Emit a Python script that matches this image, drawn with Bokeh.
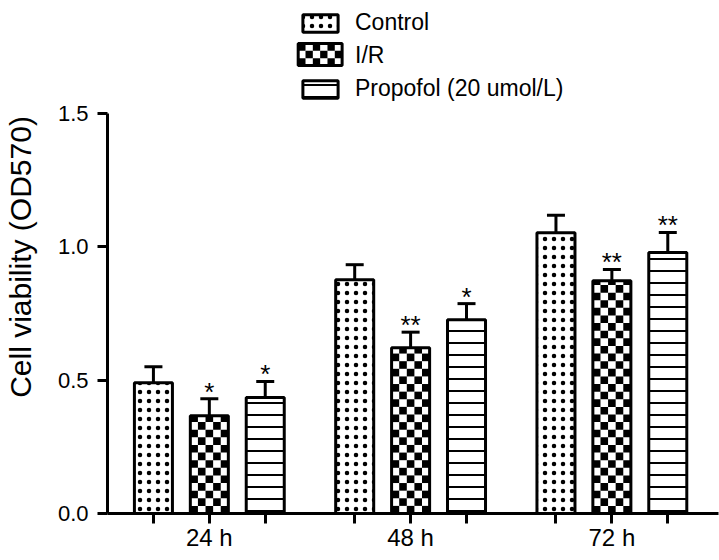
import math
from bokeh.plotting import figure
from bokeh.models import (ColumnDataSource, Whisker, TeeHead, FixedTicker, Legend, LegendItem,
                          LinearAxis, PrintfTickFormatter, Range1d)
from bokeh.core.properties import value
from bokeh.embed import file_html
from bokeh.resources import INLINE

categories = ["24 h", "48 h", "72 h"]
series = ["Control", "I/R", "Propofol (20 umol/L)"]
control = [0.49, 0.877, 1.053]
ir = [0.367, 0.622, 0.873]
propofol = [0.435, 0.727, 0.979]
control_err = [0.06, 0.056, 0.065]
ir_err = [0.063, 0.058, 0.042]
propofol_err = [0.06, 0.06, 0.075]
ir_sig = ["*", "**", "**"]
propofol_sig = ["*", "*", "**"]
y_ticks = [0.0, 0.5, 1.0, 1.5]

FONT = "Liberation Sans"
GROUP_STEP = 18
BAR_STEP = 5
BAR_W = 3.4
Y_MAX = 1.5
PX_X = 11.2      # pixels per x data unit
PX_Y = 266.67    # pixels per y data unit
X0 = -9.107
# the frame reaches the top of the canvas so that the legend above the 1.5 tick is not clipped
Y_TOP = Y_MAX + 113 / PX_Y

p = figure(width=719, height=560, output_backend="svg", toolbar_location=None,
           x_range=Range1d(X0, X0 + 612 / PX_X), y_range=Range1d(0, Y_TOP),
           min_border_left=106, min_border_right=1, min_border_top=0, min_border_bottom=47,
           x_axis_type=None, y_axis_type=None)
p.outline_line_color = None
p.xgrid.visible = False
p.ygrid.visible = False
p.background_fill_color = "white"


def checker_cells(xc, w, ybot, ytop, ncols, cell_h):
    cx, cy, cwid, chei = [], [], [], []
    cw = w / ncols
    nrows = int(math.ceil((ytop - ybot) / cell_h - 1e-9))
    for i in range(nrows):
        y0 = ybot + i * cell_h
        y1 = min(ytop, y0 + cell_h)
        for j in range(ncols):
            if (i + j) % 2 == 0:
                x0 = xc - w / 2 + j * cw
                cx.append(x0 + cw / 2)
                cy.append((y0 + y1) / 2)
                cwid.append(cw)
                chei.append(y1 - y0)
    return cx, cy, cwid, chei


vals = [control, ir, propofol]
errs = [control_err, ir_err, propofol_err]
sigs = [[""] * 3, ir_sig, propofol_sig]
styles = [
    dict(hatch_pattern="dot", hatch_scale=9, hatch_weight=1.2, hatch_color="black"),
    dict(),
    dict(hatch_pattern="horizontal_line", hatch_scale=12, hatch_weight=2, hatch_color="black"),
]

renderers = []
bar_ticks = []
for k, (name, v, e, s, st) in enumerate(zip(series, vals, errs, sigs, styles)):
    xs = [g * GROUP_STEP + (k - 1) * BAR_STEP for g in range(len(categories))]
    bar_ticks += xs
    tops = [a + b for a, b in zip(v, e)]
    src = ColumnDataSource(dict(x=xs, top=v, upper=tops, sig=s))
    if k == 1:
        p.vbar(x="x", top="top", width=BAR_W, source=src, fill_color="white", line_color=None)
        cx, cy, cwid, chei = [], [], [], []
        for xc, top in zip(xs, v):
            a, b, c, d = checker_cells(xc, BAR_W, 0.0, top, 5, (BAR_W / 5) * PX_X / PX_Y)
            cx += a; cy += b; cwid += c; chei += d
        p.rect(x=cx, y=cy, width=cwid, height=chei, fill_color="black", line_color=None)
        p.vbar(x="x", top="top", width=BAR_W, source=src, fill_color=None,
               line_color="black", line_width=3)
        # legend entry: glyph drawn separately below (checkerboard)
        r = p.vbar(x=[], top=[], width=BAR_W, fill_color=None, line_color=None)
    else:
        r = p.vbar(x="x", top="top", width=BAR_W, source=src, fill_color="white",
                   line_color="black", line_width=3, **st)
    renderers.append(r)
    w = Whisker(base="x", lower="top", upper="upper", source=src, dimension="height",
                line_color="black", line_width=3,
                upper_head=TeeHead(size=18, line_width=3, line_color="black"),
                lower_head=None)
    p.add_layout(w)
    p.text(x="x", y="upper", text="sig", source=src, text_align="center",
           text_baseline="alphabetic", y_offset=-7, text_font=value(FONT),
           text_font_size="26px", text_color="black")

overrides = {}
for t in bar_ticks:
    overrides[t] = ""
for g, c in enumerate(categories):
    overrides[g * GROUP_STEP] = c
xa = LinearAxis(ticker=FixedTicker(ticks=sorted(bar_ticks)), major_label_overrides=overrides)
xa.axis_line_width = 3
xa.major_tick_line_width = 3
xa.major_tick_out = 10
xa.major_tick_in = 0
xa.minor_tick_line_color = None
xa.major_label_text_font = FONT
xa.major_label_text_font_size = "24px"
xa.major_label_text_color = "black"
xa.major_label_standoff = 0
p.add_layout(xa, "below")

ya = LinearAxis(ticker=FixedTicker(ticks=y_ticks), formatter=PrintfTickFormatter(format="%.1f"),
                bounds=(0, Y_MAX))
ya.axis_line_width = 3
ya.major_tick_line_width = 3
ya.major_tick_out = 10
ya.major_tick_in = 0
ya.minor_tick_line_color = None
ya.major_label_text_font = FONT
ya.major_label_text_font_size = "22px"
ya.major_label_text_color = "black"
ya.major_label_standoff = 9
ya.axis_label = "Cell viability (OD570)"
ya.axis_label_text_font = FONT
ya.axis_label_text_font_size = "30px"
ya.axis_label_text_font_style = "normal"
ya.axis_label_text_color = "black"
ya.axis_label_standoff = 18
p.add_layout(ya, "left")

LEG_X = 191      # px from frame left
LEG_BOTTOM = 411  # px above frame bottom
GLYPH_W, GLYPH_H = 44, 22
legend = Legend(items=[LegendItem(label=n, renderers=[r]) for n, r in zip(series, renderers)],
                location=(LEG_X, LEG_BOTTOM), orientation="vertical",
                glyph_width=GLYPH_W, glyph_height=GLYPH_H, label_standoff=13, spacing=6,
                padding=0, margin=0, border_line_color=None, background_fill_alpha=0,
                label_text_font=FONT, label_text_font_size="23px", label_text_color="black",
                label_height=22)
p.add_layout(legend, "center")

# checkerboard legend glyph for I/R (second legend row, centred at 54 px from top)
lg_xc = X0 + (LEG_X + GLYPH_W / 2) / PX_X
lg_yc = (513 - 54) / PX_Y
lg_w = GLYPH_W / PX_X
lg_h = GLYPH_H / PX_Y
p.rect(x=[lg_xc], y=[lg_yc], width=[lg_w], height=[lg_h], fill_color="white", line_color=None)
a, b, c, d = checker_cells(lg_xc, lg_w, lg_yc - lg_h / 2, lg_yc + lg_h / 2, 6, lg_h / 3)
p.rect(x=a, y=b, width=c, height=d, fill_color="black", line_color=None)
p.rect(x=[lg_xc], y=[lg_yc], width=[lg_w], height=[lg_h], fill_color=None,
       line_color="black", line_width=3)

open("out.html", "w").write(file_html(p, INLINE))
